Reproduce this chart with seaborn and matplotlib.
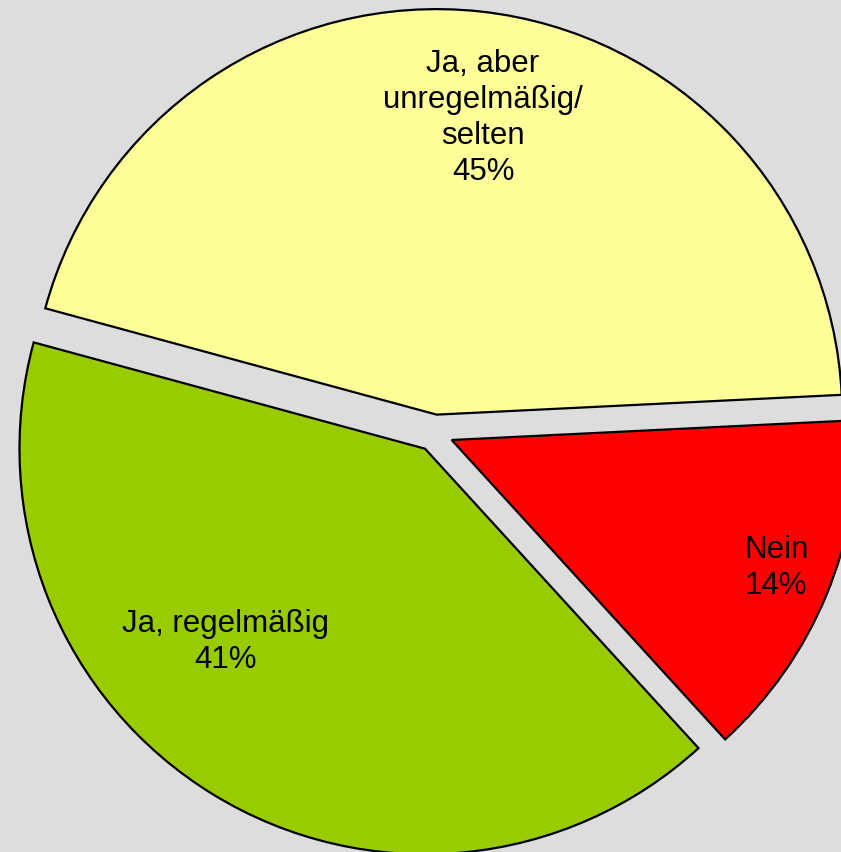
import matplotlib
matplotlib.use("Agg")
import seaborn as sns
import matplotlib.pyplot as plt

categories = ["Nein", "Ja, regelmäßig", "Ja, aber\nunregelmäßig/\nselten"]
values = [14, 41, 45]
colors = ["#FF0000", "#99CC00", "#FFFF99"]

sns.set_theme(style="white")
plt.rcParams['font.family'] = ['Liberation Sans', 'DejaVu Sans']

fig = plt.figure(figsize=(8.41, 8.52), dpi=100, facecolor="#DDDDDD")
ax = fig.add_axes([0, 0, 1, 1])
ax.set_facecolor("#DDDDDD")

wedges, _ = ax.pie(values, colors=colors, startangle=2.8, counterclock=False,
                   explode=[0.045] * 3, radius=0.989, center=(0.004, -0.005),
                   wedgeprops=dict(edgecolor="black", linewidth=1.6))

# labels placed inside slices
label_pos = [(0.837, -0.334), (-0.507, -0.515), (0.122, 0.763)]
for cat, v, (x, y) in zip(categories, values, label_pos):
    ax.text(x, y, f"{cat}\n{v}%", ha="center", va="center",
            fontsize=22.5, linespacing=1.27, color="black")

ax.set_aspect("auto")
ax.set_xlim(-1.056, 0.995)
ax.set_ylim(-1.027, 1.051)
ax.axis("off")

plt.savefig("out.png", dpi=100, facecolor=fig.get_facecolor())
